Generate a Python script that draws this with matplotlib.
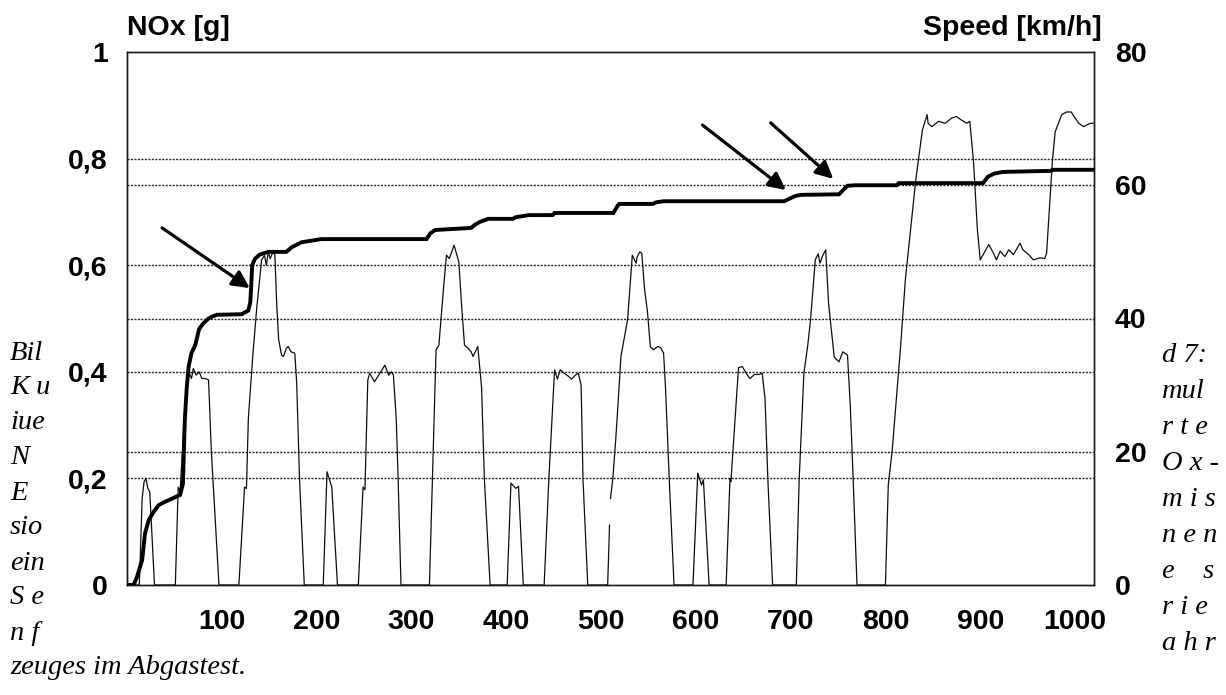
import numpy as np
import matplotlib
matplotlib.use("Agg")
import matplotlib.pyplot as plt

# --- Daten ---
# Geschwindigkeit [km/h] über Zeit [s]; NaN = Lücke in der Kurve
speed_t = [0, 13, 16, 18, 20, 22, 24, 29,
           51, 54, 56, 60, 63, 65, 68, 70, 73, 76, 79, 82, 86, 89, 91, 97,
           118, 124, 126, 128, 133, 137, 142, 145, 147, 149, 151, 154, 156, 158, 160, 163, 165, 168, 170, 173, 177, 179, 182, 187,
           207, 211, 216, 222,
           244, 249, 251, 254, 256, 261, 266, 272, 276, 279, 281, 284, 286, 289,
           319, 326, 329, 334, 337, 340, 345, 350, 353, 356, 360, 363, 365, 370, 374, 377, 383,
           401, 405, 410, 413, 418,
           440, 445, 451, 454, 457, 461, 465, 469, 473, 476, 479, 481, 486,
           507, 509, 509.5, 510, 512.5, 515.5, 518, 521, 528, 533, 537, 538, 541, 543, 546, 549, 552, 555, 560, 563, 566, 568, 572, 577,
           597, 602, 606, 608, 614,
           632, 636, 637, 645, 649, 653, 657, 662, 667, 670, 673, 676, 681,
           706, 709, 714, 718, 721, 726, 729, 731, 734, 737, 740, 746, 751, 755, 760, 763, 766, 770,
           800, 803, 807, 816, 821, 832, 839, 844, 845, 849, 856, 863, 870, 875, 880, 886, 889, 893, 897, 900,
           909, 914, 917, 921, 926, 930, 935, 942, 945, 951, 956, 963, 968, 970, 976, 979, 986, 991, 996, 999, 1004, 1009, 1016, 1019]
speed_v = [0, 0, 13, 15.5, 16, 14.5, 14, 0,
           0, 14.7, 14, 24, 31, 32, 31, 32.5, 31.5, 32, 31, 31, 30.8, 20, 15, 0,
           0, 14.7, 14.5, 25, 35, 41.8, 48.8, 49.5, 48, 50, 49, 50, 49.5, 41.8, 36.8, 34.5, 34.3, 35.5, 35.8, 35, 34.8, 30.3, 15.8, 0,
           0, 17, 14.7, 0,
           0, 14.7, 14.3, 30.8, 31.8, 30.5, 31.6, 33, 31.5, 32, 31.5, 25, 15.8, 0,
           0, 35.3, 36, 44.8, 49.5, 49, 51, 48.5, 41.8, 36, 35.5, 35, 34.3, 35.8, 29.7, 15.8, 0,
           0, 15.3, 14.5, 14.8, 0,
           0, 16, 32.3, 30.9, 32.3, 31.8, 31.4, 30.9, 31.5, 31.8, 30, 15.8, 0,
           0, 9, np.nan, 13, 16, 21.8, 27.3, 34.3, 39.8, 49.5, 48.3, 49.2, 50, 49.8, 44.3, 41, 35.8, 35.3, 35.8, 35.6, 34.8, 29.7, 15.8, 0,
           0, 16.8, 15, 15.8, 0,
           0, 16, 15.5, 32.6, 32.8, 31.8, 31, 31.6, 31.6, 31.8, 28, 15.8, 0,
           0, 15.8, 31.8, 35.9, 39.8, 48.8, 49.7, 48.3, 49.5, 50.3, 42.3, 34.2, 33.5, 35, 34.5, 26.7, 15.8, 0,
           0, 15, 20, 35.8, 45.8, 60.8, 68.3, 70.6, 69.3, 68.8, 69.6, 69.3, 70.1, 70.3, 69.8, 69.3, 69.6, 63.4, 53.3, 48.8,
           51.1, 49.8, 48.8, 50.1, 49.3, 50.3, 49.6, 51.3, 50.3, 49.6, 48.8, 49.1, 49, 49.8, 63.4, 68, 70.6, 71, 71, 70.3, 69.3, 68.8, 69.3, 69.3]

# kumulierte NOx-Masse [g]
nox_t = [0, 7, 10.5, 16, 19, 23, 28, 33.5, 40, 51, 56, 59, 61, 63, 65, 68, 72, 76, 80, 86, 89, 95, 121, 128, 130,
         131, 132, 135, 140, 149, 168, 174, 184, 205, 316, 320, 325, 363, 367, 372, 381, 407, 410, 424, 449, 451,
         513, 517, 519, 555, 558, 566, 693, 698, 705, 711, 751, 756, 760, 768, 812, 814, 903, 908, 915, 924, 974, 977, 1018]
nox_g = [0, 0, 0.015, 0.047, 0.097, 0.122, 0.137, 0.15, 0.156, 0.165, 0.169, 0.19, 0.31, 0.37, 0.41, 0.435, 0.45, 0.48,
         0.49, 0.50, 0.503, 0.507, 0.508, 0.515, 0.53, 0.56, 0.60, 0.612, 0.62, 0.625, 0.625, 0.634, 0.643, 0.649, 0.649,
         0.66, 0.666, 0.67, 0.676, 0.681, 0.687, 0.687, 0.69, 0.694, 0.694, 0.698, 0.698, 0.71, 0.715, 0.715, 0.718, 0.72,
         0.72, 0.724, 0.73, 0.732, 0.733, 0.742, 0.749, 0.75, 0.75, 0.754, 0.754, 0.766, 0.772, 0.775, 0.777, 0.779, 0.779]

# Pfeile: (Start, Spitze) in Daten-Koordinaten der NOx-Achse
arrows = [((37, 0.67), (129.5, 0.557)),
          ((607, 0.863), (695, 0.741)),
          ((679, 0.867), (745, 0.762))]

x_ticks = [100, 200, 300, 400, 500, 600, 700, 800, 900, 1000]
nox_ticks = [0, 0.2, 0.4, 0.6, 0.8, 1.0]
nox_labels = ["0", "0,2", "0,4", "0,6", "0,8", "1"]
speed_ticks = [0, 20, 40, 60, 80]

caption_left = ["Bil", "K u", "iue", "N", "E", "sio", "ein", "S e", "n f"]
caption_right = ["d 7:", "mul", "r t e", "O x -", "m i s", "n e n", "e    s", "r i e", "a h r"]
caption_last = "zeuges im Abgastest."

# --- Plot ---
W, H = 1226, 695
fig = plt.figure(figsize=(W / 100, H / 100), dpi=100)
L, R, T, B = 127, 1094, 52, 585
ax = fig.add_axes([L / W, 1 - B / H, (R - L) / W, (B - T) / H])
ax2 = ax.twinx()
ax.set_zorder(ax2.get_zorder() + 1)
ax.patch.set_visible(False)

grid_kw = dict(color="0.15", lw=1.0, ls=(0, (1.5, 1)))

ax2.plot(speed_t, speed_v, color="0.05", lw=0.9, zorder=2)
ax.plot(nox_t, nox_g, color="black", lw=2.8, solid_joinstyle="miter", zorder=3)

for tail, head in arrows:
    ax.annotate("", xy=head, xytext=tail,
                arrowprops=dict(arrowstyle="-|>", lw=2.3, color="black",
                                mutation_scale=26, shrinkA=0, shrinkB=0))

ax.set_xlim(0, 1020)
ax.set_ylim(0, 1)
ax2.set_ylim(0, 80)

for y in nox_ticks[1:-1]:
    ax2.axhline(y * 80, **grid_kw, zorder=1)
for y in speed_ticks[1:-1]:
    ax2.axhline(y, **grid_kw, zorder=1)

lab_font = dict(family="Liberation Sans", weight="bold", size=20.5)
ax.set_xticks(x_ticks)
ax.set_xticklabels([str(v) for v in x_ticks], **lab_font)
ax.set_yticks(nox_ticks)
ax.set_yticklabels(nox_labels, **lab_font)
ax2.set_yticks(speed_ticks)
ax2.set_yticklabels([str(v) for v in speed_ticks], **lab_font)
ax.tick_params(axis="x", length=0, pad=17)
ax.tick_params(axis="y", length=0, pad=14)
ax2.tick_params(axis="y", length=0, pad=15)

for a in (ax, ax2):
    for s in a.spines.values():
        s.set_linestyle((0, (1.5, 1)))
        s.set_linewidth(1.0)
        s.set_color("0.1")

fig.text(L / W, 1 - 28 / H, "NOx [g]", ha="left", va="center", **lab_font)
fig.text(1102 / W, 1 - 28 / H, "Speed [km/h]", ha="right", va="center", **lab_font)

cap_font = dict(family="Liberation Serif", style="italic", size=20.5)
for i, s in enumerate(caption_left):
    fig.text(10 / W, 1 - (353 + 35 * i) / H, s, ha="left", va="center", **cap_font)
fig.text(10 / W, 1 - 668 / H, caption_last, ha="left", va="center", **cap_font)
for i, s in enumerate(caption_right):
    fig.text(1162 / W, 1 - (355 + 36 * i) / H, s, ha="left", va="center", **cap_font)

fig.savefig("out.png", dpi=100)
